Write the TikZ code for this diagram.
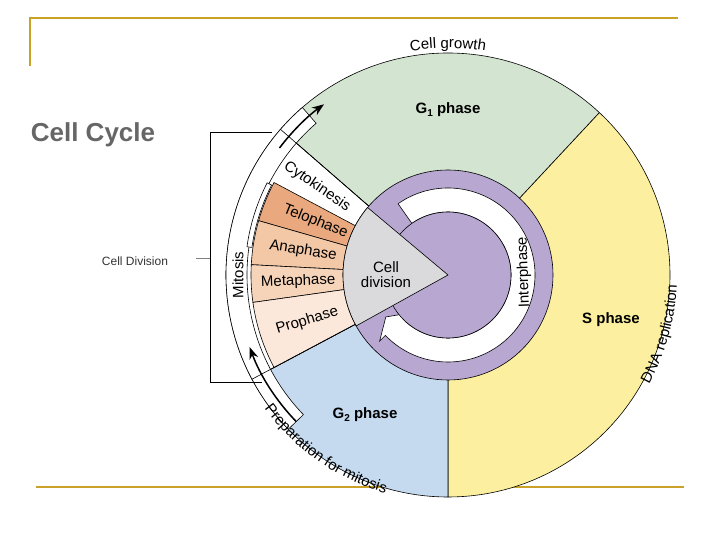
\documentclass[tikz,border=0pt]{standalone}
\usepackage{fontspec}
\setmainfont{Liberation Sans}
\usetikzlibrary{decorations.text,arrows.meta,calc}
\definecolor{gA}{HTML}{D3E4D1}
\definecolor{sY}{HTML}{FCF0A0}
\definecolor{bB}{HTML}{C5DAEF}
\definecolor{pP}{HTML}{B7A7D1}
\definecolor{gr}{HTML}{DADADD}
\definecolor{tel}{HTML}{E9A87D}
\definecolor{ana}{HTML}{F3C8A7}
\definecolor{met}{HTML}{F6D4BA}
\definecolor{pro}{HTML}{FBE8DA}
\definecolor{gold}{HTML}{C9A227}
\newcommand{\sbf}[1]{\raisebox{-3pt}{\fontsize{10}{10}\selectfont #1}}
\begin{document}
\begin{tikzpicture}[x=1pt,y=1pt,
  sec/.style={draw=black,line width=0.6pt},
  lab/.style={font=\fontsize{15}{15}\selectfont},
  curv/.style={postaction={decorate},decoration={text along path,text align=center,text={|\fontsize{15}{15}\selectfont|#1}}}]
\useasboundingbox (0,0) rectangle (720,540);
\coordinate (c) at (448,265);
% gold rules
\draw[gold,line width=2pt] (30,474) -- (30,522) -- (678,522);
\draw[gold,line width=2pt] (36,53) -- (684,53);
% sectors
\fill[gA,sec] (c) -- ++(47:222) arc (47:139:222) -- cycle;
\fill[sY,sec] (c) -- ++(-90:222) arc (-90:47:222) -- cycle;
\fill[bB,sec] (c) -- ++(208:222) arc (208:270:222) -- cycle;
\fill[white,sec] (c) -- ++(139:222) arc (139:208:222) -- cycle;
% white outer band
\fill[white,sec] (c) ++(131:201) arc (131:224:201) -- ++(224:21) arc (224:131:222) -- cycle;
% mitosis phases
\fill[tel,sec] (c) -- ++(152:197) arc (152:164:197) -- cycle;
\fill[ana,sec] (c) -- ++(164:197) arc (164:177:197) -- cycle;
\fill[met,sec] (c) -- ++(177:197) arc (177:188:197) -- cycle;
\fill[pro,sec] (c) -- ++(188:197) arc (188:208:197) -- cycle;
\draw[sec] (c) -- ++(139:222);
\draw[sec] (c) -- ++(208:222);
% small bracket
\draw[line width=0.6pt,fill=white] (c) ++(153:198) arc (153:172:198) -- ++(172:5) arc (172:153:203) -- cycle;
% interphase
\fill[pP,sec] (c) circle (105);
\fill[white,sec] (c) ++(125:87) arc (125:-136:87) -- ++(-136:8) -- ($(c)+(-146:75)$) -- ($(c)+(-136:55)$) -- ++(-136:8) arc (-136:125:63) -- cycle;
\fill[pP,sec] (c) circle (63);
\fill[gr,sec] (c) -- ++(140:105) arc (140:209:105) -- cycle;
\node[lab,align=center] (cd) at ($(c)+(180:62)$) {Cell\\division};
\node[lab,rotate=92] (ip) at ($(c)+(2:76)$) {Interphase};
% phase labels
\node[lab,rotate=-22] (tp) at ($(c)+(158:143)$) {Telophase};
\node[lab,rotate=-9] (ap) at ($(c)+(170.5:147)$) {Anaphase};
\node[lab,rotate=2] (mp) at ($(c)+(182.5:150)$) {Metaphase};
\node[lab,rotate=17] (pp) at ($(c)+(198:148)$) {Prophase};
\node[lab,rotate=-34] (ck) at ($(c)+(146:158)$) {Cytokinesis};
\node[lab,rotate=90] (mi) at ($(c)+(180:210)$) {Mitosis};
% phase names
\node[font=\bfseries\fontsize{15}{15}\selectfont] (g1) at (448,430) {G\sbf{1} phase};
\node[font=\bfseries\fontsize{15}{15}\selectfont] (sp) at (611,220) {S phase};
\node[font=\bfseries\fontsize{15}{15}\selectfont] (g2) at (365,125) {G\sbf{2} phase};
% curved labels
\path[curv={Cell growth}] (c) ++(109:227) arc (109:71:227);
\path[curv={DNA replication}] (c) ++(-45:229) arc (-45:14:229);
\path[curv={Preparation for mitosis}] (c) ++(197:227) arc (197:273:227);
% arrows
\draw[line width=1.5pt,-{Stealth[length=12pt,width=9pt]}] (c) ++(143:211) arc (143:126:211);
\draw[line width=1.5pt,-{Stealth[length=12pt,width=9pt]}] (c) ++(224:211) arc (224:200:211);
% bracket
\coordinate (bt) at (272,408);
\coordinate (bb) at (262,158);
\draw[line width=0.8pt] (bt) -- (210,408) -- (210,158) -- (bb);
\draw[gray,line width=0.6pt] (196,282) -- (210,282);
\node[font=\fontsize{12}{12}\selectfont,text=black!80] (cdl) at (135,279) {Cell Division};
\node[font=\bfseries\fontsize{26}{26}\selectfont,text=black!60] (title) at (93,405) {Cell Cycle};
\end{tikzpicture}
\end{document}
